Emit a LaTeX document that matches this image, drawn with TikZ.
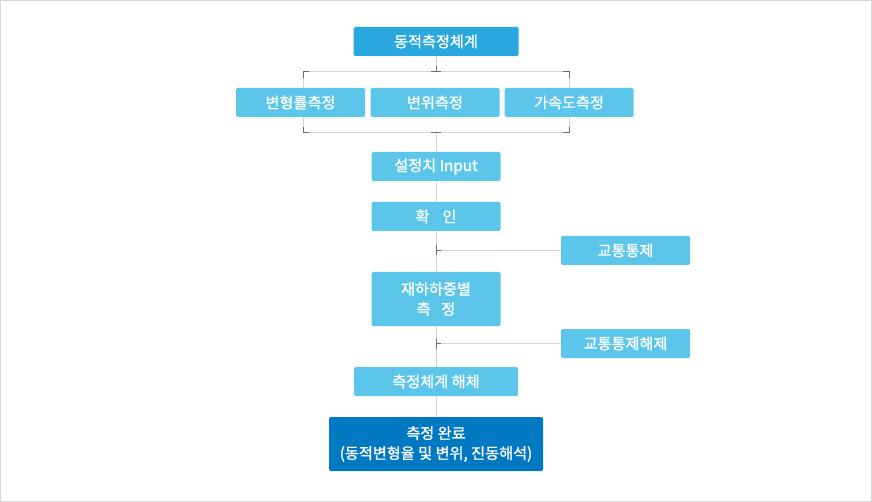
\documentclass[tikz,border=0pt]{standalone}
\usepackage{fontspec}
\setmainfont[FakeBold=1.2]{Noto Sans CJK KR}
\usetikzlibrary{calc}
\definecolor{headblue}{HTML}{29A8E0}
\definecolor{stepblue}{HTML}{5BC6EA}
\definecolor{doneblue}{HTML}{0078C2}
\definecolor{wiregray}{HTML}{D4D4D4}
\definecolor{tickgray}{HTML}{6E6E6E}
\definecolor{framegray}{HTML}{D8D8D8}
\begin{document}
\begin{tikzpicture}[x=1pt,y=-1pt,
  stepbox/.style={rectangle,rounded corners=1.5pt,fill=stepblue,text=white,inner sep=0pt,align=center,
    font=\fontsize{15.2}{20}\selectfont,minimum width=129pt,minimum height=29pt},
  wire/.style={draw=wiregray,line width=1pt},
  jointick/.style={draw=tickgray,line width=1pt}]
  \useasboundingbox (0,0) rectangle (872,502);
  \draw[framegray,line width=1pt] (0.5,0.5) rectangle (871.5,501.5);
  % Measurement system and its three branches
  \node[stepbox,fill=headblue,minimum width=165pt] (head) at (436,41.5) {동적측정체계};
  \node[stepbox] (strain) at (300.5,102.5) {변형률측정};
  \node[stepbox] (disp) at (435,102.5) {변위측정};
  \node[stepbox] (accel) at (569,102.5) {가속도측정};
  % Procedure along the spine
  \node[stepbox] (setval) at (436,166.5) {설정치 Input};
  \node[stepbox] (check) at (436,216.5) {확\hspace{0.85em}인};
  \node[stepbox,minimum height=54pt] (load) at (436,299) {재하하중별\\측\hspace{0.7em}정};
  \node[stepbox,minimum width=164pt] (dismantle) at (436,381.5) {측정체계 해체};
  \node[stepbox,fill=doneblue,minimum width=214pt,minimum height=54pt] (done) at (436,444)
    {측정 완료\\(동적변형율 및 변위, 진동해석)};
  % Traffic control on the side
  \node[stepbox] (traffic) at (625.5,250.5) {교통통제};
  \node[stepbox] (release) at (625.5,343.5) {교통통제해제};
  % Brackets round the branches
  \coordinate (tb) at (436,72);
  \coordinate (tl) at (303,72);
  \coordinate (tr) at (569,72);
  \coordinate (bb) at (436,133);
  \coordinate (bl) at (303,133);
  \coordinate (br) at (569,133);
  \draw[wire] (head) -- (tb);
  \draw[wire] (tl |- strain.north) -- (tl) -- (tr) -- (tr |- accel.north);
  \draw[wire] (bl |- strain.south) -- (bl) -- (br) -- (br |- accel.south);
  \draw[jointick] ($(tb)+(0,-6)$) -- (tb) ($(tb)+(-5,0)$) -- ($(tb)+(5,0)$);
  \draw[jointick] ($(tl)+(0,6)$) -- (tl) -- ($(tl)+(6,0)$);
  \draw[jointick] ($(tr)+(0,6)$) -- (tr) -- ($(tr)+(-6,0)$);
  \draw[jointick] ($(bb)+(0,6)$) -- (bb) ($(bb)+(-5,0)$) -- ($(bb)+(5,0)$);
  \draw[jointick] ($(bl)+(0,-6)$) -- (bl) -- ($(bl)+(6,0)$);
  \draw[jointick] ($(br)+(0,-6)$) -- (br) -- ($(br)+(-6,0)$);
  % Spine
  \draw[wire] (bb) -- (setval.north);
  \draw[wire] (setval) -- (check);
  \draw[wire] (check) -- (load);
  \draw[wire] (load) -- (dismantle);
  \draw[wire] (dismantle) -- (done);
  % Side joins
  \foreach \side in {traffic,release}{
    \coordinate (j-\side) at (check.south |- \side.west);
    \draw[wire] (\side.west) -- (j-\side);
    \draw[jointick] ($(j-\side)+(0,-5)$) -- ($(j-\side)+(0,5)$) (j-\side) -- ($(j-\side)+(5,0)$);
  }
\end{tikzpicture}
\end{document}
